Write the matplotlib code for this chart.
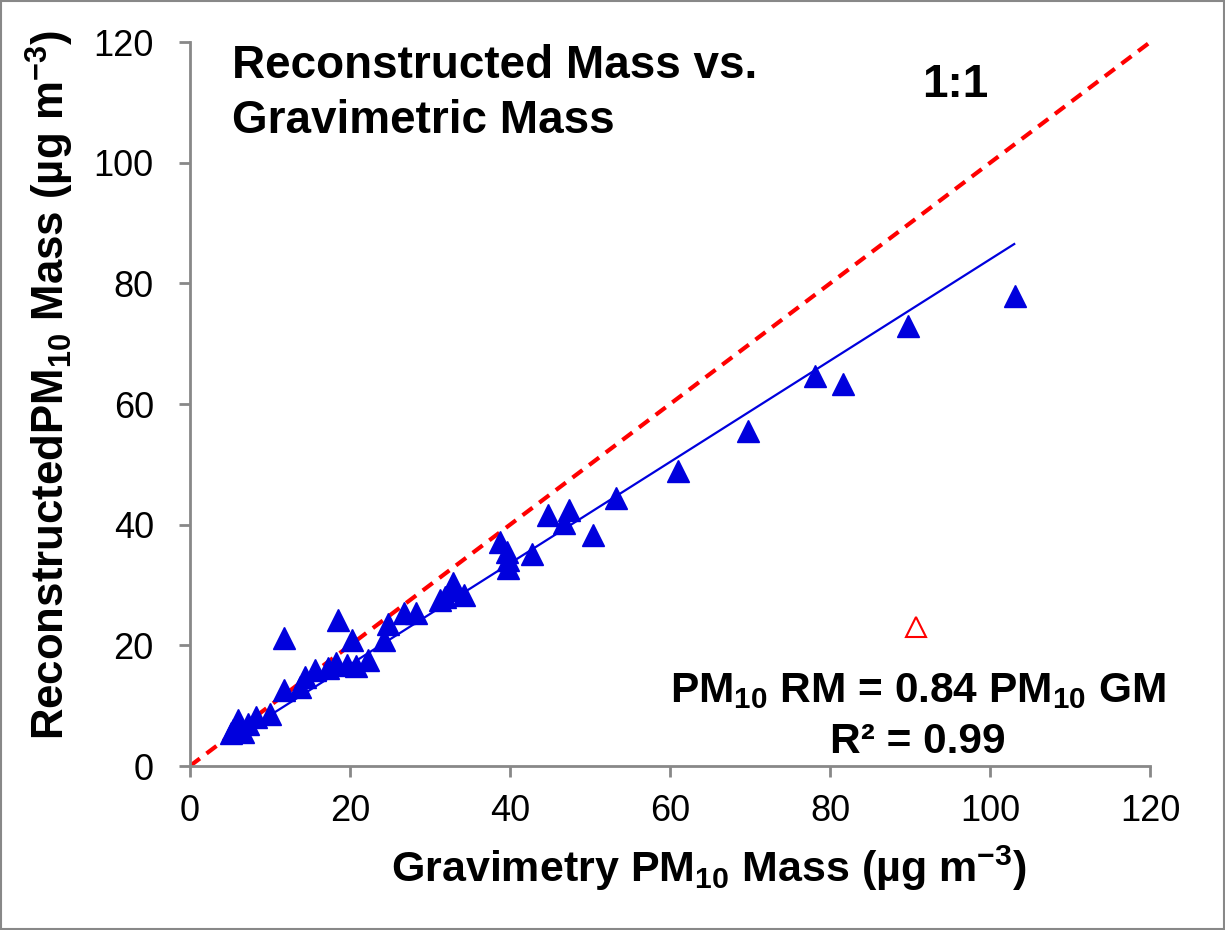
import numpy as np
import matplotlib.pyplot as plt

plt.rcParams['font.family'] = ['Liberation Sans', 'DejaVu Sans']
plt.rcParams['mathtext.fontset'] = 'custom'
plt.rcParams['mathtext.rm'] = 'Liberation Sans:bold'
plt.rcParams['mathtext.bf'] = 'Liberation Sans:bold'
plt.rcParams['mathtext.default'] = 'bf'

# Gravimetric vs reconstructed PM10 mass (ug m-3)
gm = [103.1, 89.75, 78.1, 81.6, 69.75, 61.0, 53.3, 50.4, 47.4, 46.75, 44.8,
      42.7, 38.75, 39.6, 39.8, 39.8, 33.1, 31.9, 34.2, 32.9, 26.8, 28.3,
      24.8, 24.2, 31.3, 11.8, 18.5, 20.2, 22.3, 20.8, 19.6, 18.3, 17.3,
      15.6, 14.4, 13.75, 11.7, 10.0, 8.3, 7.3, 6.0, 5.4, 6.7, 5.2]
rm = [77.9, 72.9, 64.6, 63.3, 55.5, 48.9, 44.4, 38.3, 42.4, 40.2, 41.6,
      35.2, 37.1, 35.5, 34.1, 32.8, 29.2, 28.1, 28.3, 30.3, 25.3, 25.3,
      23.6, 20.9, 27.6, 21.2, 24.2, 20.9, 17.6, 16.5, 16.7, 17.0, 16.2,
      15.9, 14.8, 13.1, 12.6, 8.7, 8.2, 7.0, 7.6, 6.0, 5.7, 5.4]
# outlier excluded from fit
out_gm = [90.75]
out_rm = [23.0]
slope = 0.84

fig = plt.figure(figsize=(12.25, 9.3), dpi=100)
ax = fig.add_axes([0.155, 0.1763, 0.784, 0.7785])

ax.plot([0, 120], [0, 120], '--', color='red', lw=3, dashes=(3, 2), zorder=2)
xf = np.array([5, 103])
ax.plot(xf, slope * xf, '-', color='#0000dd', lw=1.6, zorder=2)
ax.plot(gm, rm, '^', color='#0000dd', markersize=16, mec='#0000dd', zorder=3)
ax.plot(out_gm, out_rm, '^', mfc='white', mec='red', mew=1.5, markersize=15, zorder=3)

ax.set_xlim(0, 120)
ax.set_ylim(0, 120)
ax.set_xticks(range(0, 121, 20))
ax.set_yticks(range(0, 121, 20))
for s in ['top', 'right']:
    ax.spines[s].set_visible(False)
for s in ['left', 'bottom']:
    ax.spines[s].set_color('#888888')
    ax.spines[s].set_linewidth(2)
ax.tick_params(direction='out', length=8, width=2, color='#888888', labelsize=26)
ax.tick_params(axis='y', pad=18)
ax.tick_params(axis='x', pad=12)

fig.text(709 / 1225, 1 - 868 / 930,
         'Gravimetry PM$_{10}$ Mass (µg m$^{-3}$)',
         fontsize=31, fontweight='bold', ha='center', va='center')
fig.text(50 / 1225, 1 - 385 / 930,
         'ReconstructedPM$_{10}$ Mass (µg m$^{-3}$)',
         fontsize=31.5, fontweight='bold', ha='center', va='center', rotation=90)

ax.text(5.25, 119.6, 'Reconstructed Mass vs.\nGravimetric Mass', fontsize=33,
        fontweight='bold', va='top', ha='left', linespacing=1.3)
ax.text(95.6, 112.9, '1:1', fontsize=33, fontweight='bold', ha='center', va='center')
ax.text(91, 12.4, 'PM$_{10}$ RM = 0.84 PM$_{10}$ GM', fontsize=30.5,
        fontweight='bold', ha='center', va='center')
ax.text(91, 4.0, 'R² = 0.99', fontsize=30.5, fontweight='bold', ha='center', va='center')

fig.patches.append(plt.Rectangle((0.001, 0.001), 0.998, 0.998, transform=fig.transFigure,
                                 fill=False, edgecolor='#888888', lw=1.5))

fig.savefig('out.png', dpi=100)
